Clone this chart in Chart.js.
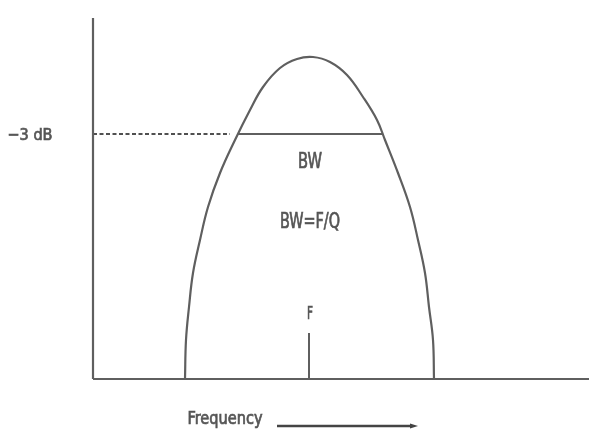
<!DOCTYPE html>
<html>
<head>
<meta charset="utf-8">
<script src="https://cdn.jsdelivr.net/npm/chart.js@4"></script>
<style>
html,body{margin:0;padding:0;background:#fff;}
#wrap{width:589px;height:429px;}
</style>
</head>
<body>
<div id="wrap"><canvas id="c" width="589" height="429"></canvas></div>
<script>
// Response curve (x: frequency position, y: response level)
const curveX = [92, 93, 96, 100, 107, 115, 127, 142, 157, 170, 187, 204, 220, 237, 254, 270, 284, 292, 305, 317, 325, 332, 336, 340, 341];
const curveY = [0, 39, 72, 106, 139, 172, 206, 239, 269, 292, 311, 320, 322, 317, 304, 282, 259, 239, 206, 172, 139, 106, 72, 39, 0];
// -3 dB level and bandwidth edges
const level3dB = 245;
const bwEdges = [145, 290];
const dashEnd = 137;
// centre frequency F and its marker height
const centreF = 216;
const centreMarkTop = 46;
// axes extents
const xMax = 496;
const yMax = 361;
// labels
const yLabel = "\u22123 dB";
const bwLabel = "BW";
const formulaLabel = "BW=F/Q";
const fLabel = "F";
const xTitle = "Frequency";

const grey = '#5f5f5f';
const curve = curveX.map((x, i) => ({x, y: curveY[i]}));

const textPlugin = {
  id: 'texts',
  afterDatasetsDraw(chart) {
    const ctx = chart.ctx;
    const xs = chart.scales.x, ys = chart.scales.y;
    function txt(s, vx, vy, capPx, widthPx) {
      const px = xs.getPixelForValue(vx), py = ys.getPixelForValue(vy);
      const size = capPx / 0.72;
      ctx.save();
      ctx.font = size + 'px "Liberation Sans Narrow", "DejaVu Sans Condensed", "Liberation Sans", sans-serif';
      ctx.fillStyle = '#555';
      ctx.strokeStyle = '#555';
      ctx.lineWidth = 0.7;
      ctx.textAlign = 'center';
      ctx.textBaseline = 'alphabetic';
      const w = ctx.measureText(s).width;
      const sx = widthPx / w;
      ctx.translate(px, py + capPx / 2);
      ctx.scale(sx, 1);
      ctx.fillText(s, 0, 0);
      ctx.strokeText(s, 0, 0);
      ctx.restore();
    }
    txt(yLabel, -63, level3dB, 12, 45);
    txt(bwLabel, 217, 219, 15, 24);
    txt(formulaLabel, 217, 159, 15, 60);
    txt(fLabel, 217, 67, 13, 6);
    txt(xTitle, 132, -38, 13, 75);
    // arrow
    const ax0 = xs.getPixelForValue(184), ax1 = xs.getPixelForValue(325), ay = ys.getPixelForValue(-47);
    ctx.save();
    ctx.strokeStyle = '#444';
    ctx.fillStyle = '#444';
    ctx.lineWidth = 2.5;
    ctx.beginPath();
    ctx.moveTo(ax0, ay);
    ctx.lineTo(ax1 - 6, ay);
    ctx.stroke();
    ctx.beginPath();
    ctx.moveTo(ax1, ay);
    ctx.lineTo(ax1 - 8, ay - 2.5);
    ctx.lineTo(ax1 - 8, ay + 2.5);
    ctx.closePath();
    ctx.fill();
    ctx.restore();
  }
};

new Chart(document.getElementById('c'), {
  type: 'scatter',
  data: {
    datasets: [
      {data: [{x: 0, y: 0}, {x: 0, y: yMax}], showLine: true, borderColor: grey, borderWidth: 2.2, pointRadius: 0, clip: false},
      {data: [{x: 0, y: 0}, {x: xMax, y: 0}], showLine: true, borderColor: grey, borderWidth: 2.2, pointRadius: 0, clip: false},
      {data: curve, showLine: true, borderColor: grey, borderWidth: 2.2, pointRadius: 0, tension: 0.4, clip: false},
      {data: [{x: 0, y: level3dB}, {x: dashEnd, y: level3dB}], showLine: true, borderColor: '#505050', borderWidth: 1.8, borderDash: [4, 2.5], pointRadius: 0, clip: false},
      {data: [{x: bwEdges[0], y: level3dB}, {x: bwEdges[1], y: level3dB}], showLine: true, borderColor: grey, borderWidth: 2, pointRadius: 0, clip: false},
      {data: [{x: centreF, y: 0}, {x: centreF, y: centreMarkTop}], showLine: true, borderColor: grey, borderWidth: 2, pointRadius: 0, clip: false}
    ]
  },
  options: {
    responsive: false,
    animation: false,
    layout: {padding: {left: 93, right: 0, top: 18, bottom: 50}},
    plugins: {legend: {display: false}, tooltip: {enabled: false}},
    scales: {
      x: {type: 'linear', min: 0, max: xMax, display: false},
      y: {type: 'linear', min: 0, max: yMax, display: false}
    }
  },
  plugins: [textPlugin]
});
</script>
</body>
</html>
